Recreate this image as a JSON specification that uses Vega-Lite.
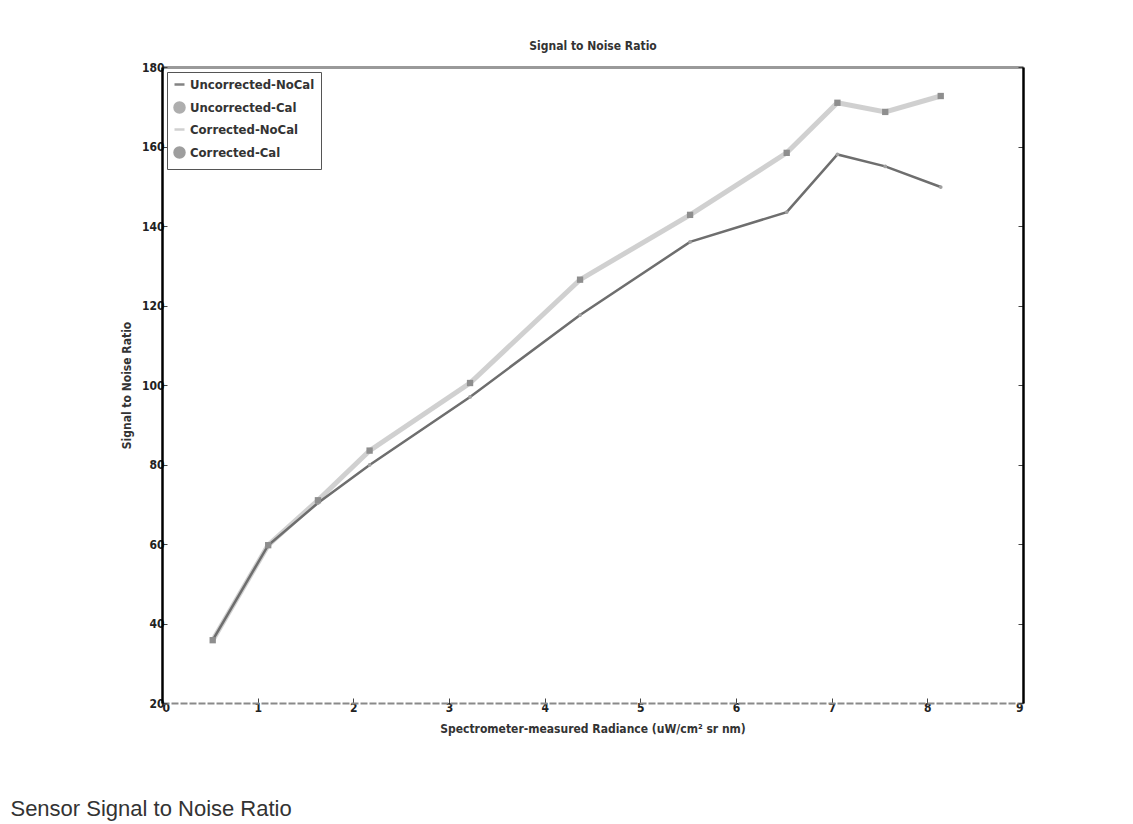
{
  "$schema": "https://vega.github.io/schema/vega-lite/v6.json",
  "autosize": {"type": "none"},
  "width": 861,
  "height": 636,
  "padding": {"left": 162, "top": 67, "right": 110, "bottom": 121},
  "background": "white",
  "title": {
    "text": "Sensor Signal to Noise Ratio",
    "orient": "bottom",
    "anchor": "start",
    "frame": "bounds",
    "font": "Liberation Sans",
    "fontSize": 22,
    "fontWeight": "normal",
    "color": "#333333",
    "offset": 65,
    "dx": -110
  },
  "config": {
    "view": {"stroke": null},
    "axis": {
      "labelFont": "DejaVu Sans Condensed, sans-serif",
      "labelFontSize": 12,
      "labelFontWeight": "bold",
      "labelColor": "#222222",
      "titleFont": "DejaVu Sans Condensed, sans-serif",
      "titleFontSize": 12,
      "titleFontWeight": "bold",
      "titleColor": "#333333",
      "grid": false,
      "tickColor": "#444444",
      "tickSize": -5
    },
    "legend": {
      "orient": "top-left",
      "offset": 5,
      "strokeColor": "#555555",
      "fillColor": "white",
      "padding": 6,
      "labelFont": "DejaVu Sans Condensed, sans-serif",
      "labelFontSize": 13,
      "labelFontWeight": "bold",
      "labelColor": "#333333",
      "rowPadding": 5,
      "symbolSize": 100,
      "symbolStrokeWidth": 2.5
    }
  },
  "data": {
    "values": [
      {"series": "Uncorrected-NoCal", "x": 0.53, "y": 35.8},
      {"series": "Uncorrected-NoCal", "x": 1.11, "y": 59.7},
      {"series": "Uncorrected-NoCal", "x": 1.63, "y": 70.3},
      {"series": "Uncorrected-NoCal", "x": 2.17, "y": 79.9},
      {"series": "Uncorrected-NoCal", "x": 3.22, "y": 97.0},
      {"series": "Uncorrected-NoCal", "x": 4.37, "y": 117.6},
      {"series": "Uncorrected-NoCal", "x": 5.52, "y": 136.0},
      {"series": "Uncorrected-NoCal", "x": 6.53, "y": 143.5},
      {"series": "Uncorrected-NoCal", "x": 7.06, "y": 158.0},
      {"series": "Uncorrected-NoCal", "x": 7.56, "y": 155.0},
      {"series": "Uncorrected-NoCal", "x": 8.14, "y": 149.8},
      {"series": "Uncorrected-Cal", "x": 0.53, "y": 35.8},
      {"series": "Uncorrected-Cal", "x": 1.11, "y": 59.7},
      {"series": "Uncorrected-Cal", "x": 1.63, "y": 70.3},
      {"series": "Uncorrected-Cal", "x": 2.17, "y": 79.9},
      {"series": "Uncorrected-Cal", "x": 3.22, "y": 97.0},
      {"series": "Uncorrected-Cal", "x": 4.37, "y": 117.6},
      {"series": "Uncorrected-Cal", "x": 5.52, "y": 136.0},
      {"series": "Uncorrected-Cal", "x": 6.53, "y": 143.5},
      {"series": "Uncorrected-Cal", "x": 7.06, "y": 158.0},
      {"series": "Uncorrected-Cal", "x": 7.56, "y": 155.0},
      {"series": "Uncorrected-Cal", "x": 8.14, "y": 149.8},
      {"series": "Corrected-NoCal", "x": 0.53, "y": 35.8},
      {"series": "Corrected-NoCal", "x": 1.11, "y": 59.7},
      {"series": "Corrected-NoCal", "x": 1.63, "y": 71.0},
      {"series": "Corrected-NoCal", "x": 2.17, "y": 83.5},
      {"series": "Corrected-NoCal", "x": 3.22, "y": 100.5},
      {"series": "Corrected-NoCal", "x": 4.37, "y": 126.5},
      {"series": "Corrected-NoCal", "x": 5.52, "y": 142.8},
      {"series": "Corrected-NoCal", "x": 6.53, "y": 158.4},
      {"series": "Corrected-NoCal", "x": 7.06, "y": 171.0},
      {"series": "Corrected-NoCal", "x": 7.56, "y": 168.7},
      {"series": "Corrected-NoCal", "x": 8.14, "y": 172.7},
      {"series": "Corrected-Cal", "x": 0.53, "y": 35.8},
      {"series": "Corrected-Cal", "x": 1.11, "y": 59.7},
      {"series": "Corrected-Cal", "x": 1.63, "y": 71.0},
      {"series": "Corrected-Cal", "x": 2.17, "y": 83.5},
      {"series": "Corrected-Cal", "x": 3.22, "y": 100.5},
      {"series": "Corrected-Cal", "x": 4.37, "y": 126.5},
      {"series": "Corrected-Cal", "x": 5.52, "y": 142.8},
      {"series": "Corrected-Cal", "x": 6.53, "y": 158.4},
      {"series": "Corrected-Cal", "x": 7.06, "y": 171.0},
      {"series": "Corrected-Cal", "x": 7.56, "y": 168.7},
      {"series": "Corrected-Cal", "x": 8.14, "y": 172.7}
    ]
  },
  "encoding": {
    "x": {"field": "x", "type": "quantitative", "scale": {"domain": [0, 9], "nice": false, "zero": false}},
    "y": {"field": "y", "type": "quantitative", "scale": {"domain": [20, 180], "nice": false, "zero": false}},
    "color": {
      "field": "series",
      "type": "nominal",
      "scale": {
        "domain": ["Uncorrected-NoCal", "Uncorrected-Cal", "Corrected-NoCal", "Corrected-Cal"],
        "range": ["#6e6e6e", "#a0a0a0", "#c8c8c8", "#8e8e8e"]
      },
      "legend": {"title": null}
    }
  },
  "layer": [
    {
      "transform": [{"filter": "datum.series === 'Corrected-NoCal'"}],
      "mark": {"type": "line", "strokeWidth": 5, "opacity": 0.85},
      "encoding": {
        "x": {"field": "x", "type": "quantitative", "axis": {"orient": "bottom", "title": "Spectrometer-measured Radiance (uW/cm² sr nm)", "values": [0,1,2,3,4,5,6,7,8,9], "domainColor": "#8a8a8a", "domainWidth": 2, "domainDash": [7, 2], "labelPadding": 4, "titlePadding": 10}},
        "y": {"field": "y", "type": "quantitative", "axis": {"orient": "left", "title": "Signal to Noise Ratio", "values": [20,40,60,80,100,120,140,160,180], "domainColor": "#000000", "domainWidth": 2.5, "labelPadding": 3, "titlePadding": 8}}
      }
    },
    {
      "transform": [{"filter": "datum.series === 'Uncorrected-NoCal'"}],
      "mark": {"type": "line", "strokeWidth": 2.5},
      "encoding": {
        "x": {"field": "x", "type": "quantitative", "axis": null},
        "y": {"field": "y", "type": "quantitative", "axis": null}
      }
    },
    {
      "transform": [{"filter": "datum.series === 'Uncorrected-Cal'"}],
      "mark": {"type": "point", "filled": true, "opacity": 1, "size": 14},
      "encoding": {
        "x": {"field": "x", "type": "quantitative", "axis": null},
        "y": {"field": "y", "type": "quantitative", "axis": null},
        "shape": {
          "field": "series",
          "type": "nominal",
          "scale": {
            "domain": ["Uncorrected-NoCal", "Uncorrected-Cal", "Corrected-NoCal", "Corrected-Cal"],
            "range": ["stroke", "circle", "stroke", "circle"]
          },
          "legend": {"title": null}
        }
      }
    },
    {
      "transform": [{"filter": "datum.series === 'Corrected-Cal'"}],
      "mark": {"type": "point", "filled": true, "opacity": 1, "size": 40, "shape": "square"},
      "encoding": {
        "x": {"field": "x", "type": "quantitative", "axis": {"orient": "top", "title": "Signal to Noise Ratio", "labels": false, "ticks": false, "domainColor": "#9a9a9a", "domainWidth": 3, "titlePadding": 15}},
        "y": {"field": "y", "type": "quantitative", "axis": {"orient": "right", "title": null, "labels": false, "values": [20,40,60,80,100,120,140,160,180], "domainColor": "#000000", "domainWidth": 2.5}}
      }
    }
  ],
  "resolve": {"axis": {"x": "independent", "y": "independent"}}
}
